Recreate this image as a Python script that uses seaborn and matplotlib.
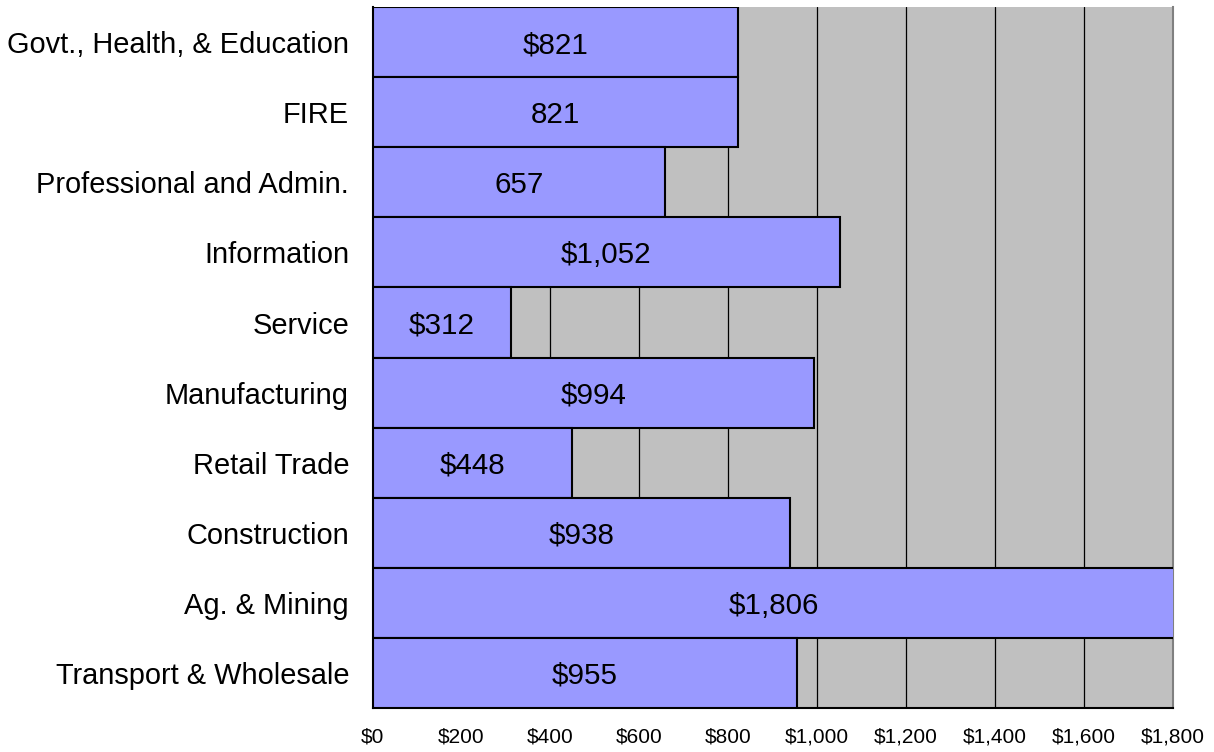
import matplotlib
matplotlib.use("Agg")
import matplotlib.pyplot as plt
import seaborn as sns
import pandas as pd
import numpy as np
from matplotlib.ticker import FixedLocator, FuncFormatter

# chart data, top to bottom
categories = [
    "Govt., Health, & Education",
    "FIRE",
    "Professional and Admin.",
    "Information",
    "Service",
    "Manufacturing",
    "Retail Trade",
    "Construction",
    "Ag. & Mining",
    "Transport & Wholesale",
]
values = [821, 821, 657, 1052, 312, 994, 448, 938, 1806, 955]
value_labels = ["$821", "821", "657", "$1,052", "$312", "$994", "$448", "$938", "$1,806", "$955"]
x_ticks = [0, 200, 400, 600, 800, 1000, 1200, 1400, 1600, 1800]

df = pd.DataFrame({"category": categories, "value": values})

sns.set_style("white")
plt.rcParams["font.family"] = ["Liberation Sans", "DejaVu Sans"]

fig = plt.figure(figsize=(12.14, 7.52), dpi=100)
ax = fig.add_axes([0.307, 0.0585, 0.659, 0.932])
ax.set_facecolor("#C0C0C0")

sns.barplot(data=df, x="value", y="category", orient="h", color="#9999FF",
            saturation=1, width=1.0, edgecolor="black", linewidth=1.5, ax=ax, zorder=3)

ax.set_xlim(0, 1800)
ax.set_ylim(len(categories) - 0.5, -0.5)

# vertical gridlines
ax.set_axisbelow(True)
ax.xaxis.set_major_locator(FixedLocator(x_ticks))
ax.xaxis.grid(True, color="black", linewidth=0.9, zorder=0)
ax.xaxis.set_major_formatter(FuncFormatter(lambda v, p: f"${v:,.0f}"))
ax.tick_params(axis="x", labelsize=15, length=4, width=1, color="black",
               labelcolor="black", direction="out", pad=10)

# y tick marks between categories, labels at centres
ax.tick_params(axis="y", which="major", length=0, labelsize=20.9, labelcolor="black", pad=17)
ax.yaxis.set_minor_locator(FixedLocator(np.arange(-0.5, len(categories), 1)))
ax.tick_params(axis="y", which="minor", length=10, width=1, color="black", direction="out")

for i, (v, lab) in enumerate(zip(values, value_labels)):
    ax.text(v / 2, i, lab, ha="center", va="center_baseline", fontsize=21.3,
            color="black", zorder=4)

for side in ["left", "bottom"]:
    ax.spines[side].set_color("black")
    ax.spines[side].set_linewidth(1.5)
ax.spines["top"].set_visible(False)
ax.spines["right"].set_color("#808080")
ax.spines["right"].set_linewidth(1.5)

ax.set_xlabel("")
ax.set_ylabel("")

fig.savefig("out.png", dpi=100)
